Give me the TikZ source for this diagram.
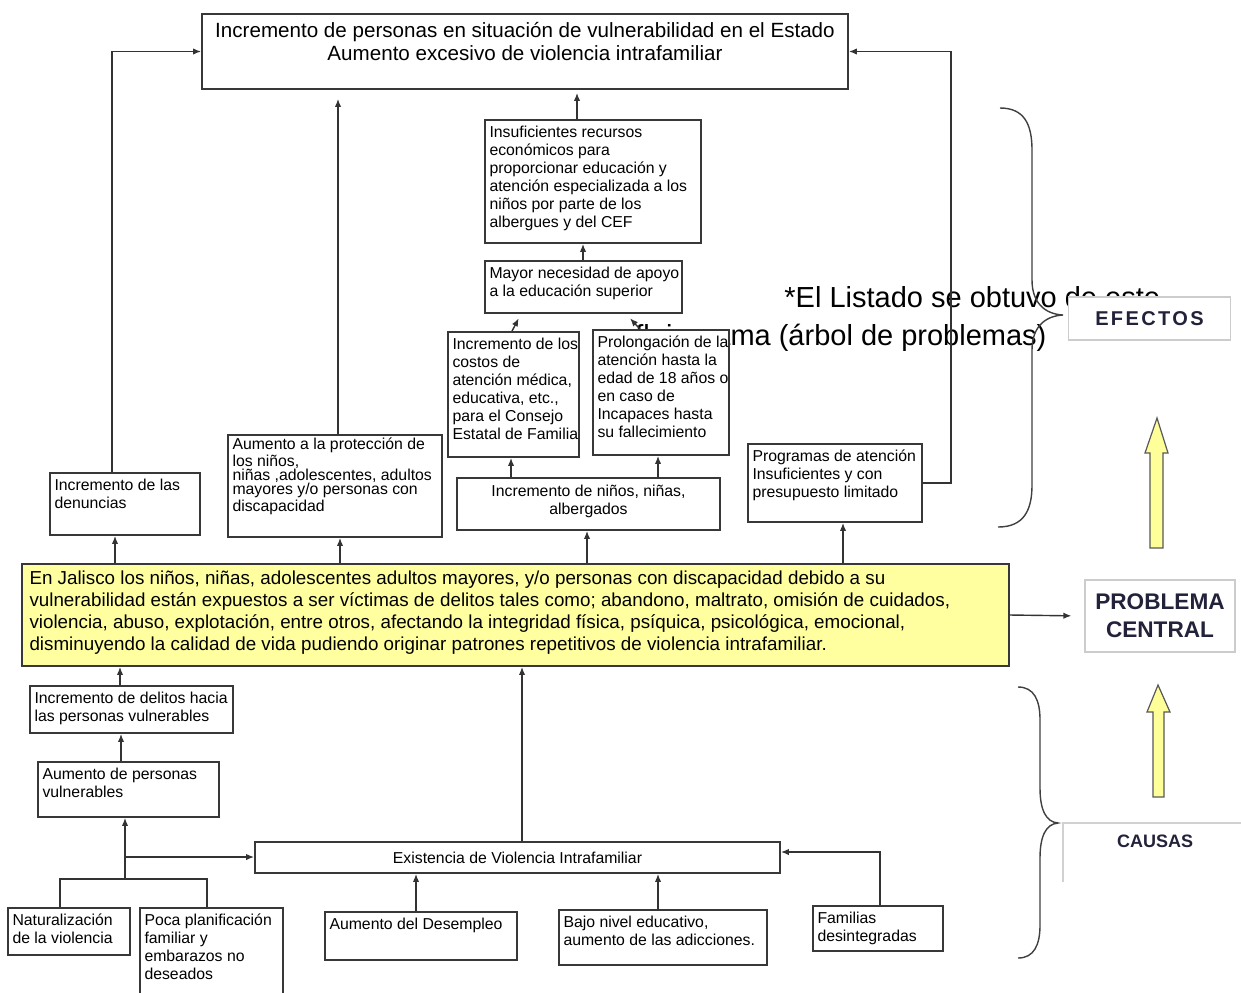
\documentclass[tikz,border=0pt]{standalone}
\usepackage{fontspec}
\setmainfont{Liberation Sans}
\usetikzlibrary{arrows.meta}
\definecolor{mainyellow}{HTML}{FFFFA0}
\definecolor{arrowyellow}{HTML}{FFFF99}
\definecolor{headcol}{HTML}{22223A}
\newcommand\ebox[6][]{\node[frame,minimum width={(#5)*0.5pt},minimum height={(#6)*0.5pt},#1] (#2) at ({#3+(#5)/2},{#4+(#6)/2}) {};}
\begin{document}
\begin{tikzpicture}[x=0.5pt,y=-0.5pt,
  frame/.style={draw=black!78,line width=0.9pt,fill=white,inner sep=0pt,anchor=center},
  lightframe/.style={draw=black!18,line width=0.6pt},
  txt/.style={anchor=north west,align=left,inner xsep=2.5pt,inner ysep=3.2pt,font=\fontsize{7.9pt}{9pt}\selectfont},
  ctxt/.style={align=center,inner sep=0pt,font=\fontsize{7.9pt}{9pt}\selectfont},
  arr/.style={draw=black!80,line width=0.7pt,-{Latex[length=4pt,width=3.2pt]}},
  ln/.style={draw=black!80,line width=0.7pt},
  brace/.style={draw=black!75,line width=0.7pt},
  yarrow/.style={fill=arrowyellow,draw=black!65,line width=0.6pt},
  note/.style={inner sep=0pt,font=\fontsize{14.5pt}{17pt}\selectfont},
  head/.style={align=center,inner sep=0pt,text=headcol,font=\bfseries}
]
\path[use as bounding box,fill=white] (0,0) rectangle (1241,992);

% note text (under the boxes)
\node[note,anchor=base west] (nt1) at (784,307) {*El Listado se obtuvo de este};
\node[note,anchor=base west] (nt2) at (635,345) {flujograma (árbol de problemas)};

% ---------- effects ----------
\ebox{top}{202}{14}{646}{75}
\node[align=center,inner sep=0pt,anchor=north,font=\fontsize{10.3pt}{11.5pt}\selectfont] (top-t) at ([yshift=-4.2pt]top.north) {Incremento de personas en situación de vulnerabilidad en el Estado\\Aumento excesivo de violencia intrafamiliar};

\ebox{ins}{485}{120}{216}{123}
\node[txt] (ins-t) at (ins.north west) {Insuficientes recursos\\económicos para\\proporcionar educación y\\atención especializada a los\\niños por parte de los\\albergues y del CEF};

\ebox{may}{485}{261}{197}{52}
\node[txt] (may-t) at (may.north west) {Mayor necesidad de apoyo\\a la educación superior};

\ebox{cos}{448}{332}{131}{125}
\node[txt] (cos-t) at (cos.north west) {Incremento de los\\costos de\\atención médica,\\educativa, etc.,\\para el Consejo\\Estatal de Familia};

\ebox{pro}{593}{330}{136}{125}
\node[txt] (pro-t) at (pro.north west) {Prolongación de la\\atención hasta la\\edad de 18 años o\\en caso de\\Incapaces hasta\\su fallecimiento};

\ebox{nin}{457}{478}{263}{52}
\node[ctxt] (nin-t) at ([yshift=1.5pt]nin.center) {Incremento de niños, niñas,\\albergados};

\ebox{prog}{748}{444}{174}{78}
\node[txt] (prog-t) at (prog.north west) {Programas de atención\\Insuficientes y con\\presupuesto limitado};

\ebox{den}{50}{473}{150}{62}
\node[txt] (den-t) at (den.north west) {Incremento de las\\denuncias};

\ebox{prot}{228}{435}{214}{102}
\node[txt,inner ysep=1.6pt,font=\fontsize{7.9pt}{7.1pt}\selectfont] (prot-t) at (prot.north west) {Aumento a la protección de\\los niños,\\niñas ,adolescentes, adultos\\mayores y/o personas con\\discapacidad};

% ---------- central problem ----------
\ebox[fill=mainyellow]{main}{22}{564}{987}{102}
\node[txt,inner xsep=4pt,inner ysep=3.5pt,font=\fontsize{9.4pt}{11pt}\selectfont] (main-t) at (main.north west) {En Jalisco los niños, niñas, adolescentes adultos mayores, y/o personas con discapacidad debido a su\\vulnerabilidad están expuestos a ser víctimas de delitos tales como; abandono, maltrato, omisión de cuidados,\\violencia, abuso, explotación, entre otros, afectando la integridad física, psíquica, psicológica, emocional,\\disminuyendo la calidad de vida pudiendo originar patrones repetitivos de violencia intrafamiliar.};

% ---------- causes ----------
\ebox{del}{30}{686}{203}{47}
\node[txt] (del-t) at (del.north west) {Incremento de delitos hacia\\las personas vulnerables};

\ebox{apv}{38}{762}{181}{55}
\node[txt] (apv-t) at (apv.north west) {Aumento de personas\\vulnerables};

\ebox{exi}{255}{842}{525}{31}
\node[ctxt] (exi-t) at (exi.center) {Existencia de Violencia Intrafamiliar};

\ebox{nat}{8}{908}{122}{47}
\node[txt] (nat-t) at (nat.north west) {Naturalización\\de la violencia};

\ebox{poca}{140}{908}{143}{90}
\node[txt] (poca-t) at (poca.north west) {Poca planificación\\familiar y\\embarazos no\\deseados};

\ebox{des}{325}{912}{192}{48}
\node[txt] (des-t) at (des.north west) {Aumento del Desempleo};

\ebox{bajo}{559}{910}{208}{55}
\node[txt] (bajo-t) at (bajo.north west) {Bajo nivel educativo,\\aumento de las adicciones.};

\ebox{fam}{813}{906}{130}{45}
\node[txt] (fam-t) at (fam.north west) {Familias\\desintegradas};

% ---------- right column ----------
\node[draw=black!20,line width=0.6pt,fill=white,minimum width=81pt,minimum height=21.5pt,inner sep=0pt] (ef) at (1149.5,318.5) {};
\node[head,font=\bfseries\fontsize{10pt}{12pt}\selectfont\addfontfeature{LetterSpace=12}] (ef-t) at (ef.center) {EFECTOS};

\node[draw=black!20,line width=0.6pt,fill=white,minimum width=75pt,minimum height=36pt,inner sep=0pt] (pc) at (1160,616) {};
\node[head,font=\bfseries\fontsize{11.3pt}{14pt}\selectfont] (pc-t) at (pc.center) {PROBLEMA\\CENTRAL};

\draw[lightframe] (1260,823) -- (1063,823) -- (1063,882);
\node[head,font=\bfseries\fontsize{9pt}{11pt}\selectfont] (ca) at (1155,841) {CAUSAS};

% yellow arrows
\filldraw[yarrow] (1150,548) -- (1150,453) -- (1145,453) -- (1157,418) -- (1168,453) -- (1163,453) -- (1163,548) -- cycle;
\filldraw[yarrow] (1153,797) -- (1153,712) -- (1147,712) -- (1158,685) -- (1170,712) -- (1164,712) -- (1164,797) -- cycle;

% braces
\draw[brace] (998,527) .. controls (1024,527) and (1032,510) .. (1032,485) -- (1032,350)
  .. controls (1032,328) and (1044,316) .. (1063,315)
  .. controls (1044,314) and (1032,302) .. (1032,280) -- (1032,150)
  .. controls (1032,124) and (1024,108) .. (1000,108);
\draw[brace] (1018,958) .. controls (1034,958) and (1040,945) .. (1040,925) -- (1040,858)
  .. controls (1040,836) and (1046,824) .. (1058,823)
  .. controls (1046,822) and (1040,810) .. (1040,788) -- (1040,720)
  .. controls (1040,700) and (1034,687) .. (1018,687);

% ---------- connectors ----------
\draw[arr] (den.north -| 112,0) |- (top.west);
\draw[arr,shorten >=4.5pt] (prot.north -| 338,0) -- (top.south -| 338,0);
\draw[arr,shorten >=1.5pt] (ins.north -| 577,0) -- (top.south -| 577,0);
\draw[arr] (may.north -| 583,0) -- (ins.south -| 583,0);
\draw[arr,shorten >=2.5pt] (cos.north -| 512,0) -- (may.south -| 521,0);
\draw[arr,shorten >=3pt] (pro.north -| 640,0) -- (may.south -| 626,0);
\draw[arr] (nin.north -| 511,0) -- (cos.south -| 511,0);
\draw[arr] (nin.north -| 658,0) -- (pro.south -| 658,0);
\draw[arr] (main.north -| 587,0) -- (nin.south -| 587,0);
\draw[arr] (main.north -| 843,0) -- (prog.south -| 843,0);
\draw[arr] (main.north -| 115,0) -- (den.south -| 115,0);
\draw[arr] (main.north -| 340,0) -- (prot.south -| 340,0);
\draw[arr] (prog.east) -- ++(28,0) |- (top.east);
\draw[arr,shorten >=6.5pt] (main.east) -- (pc.west);

\draw[arr] (del.north -| 120,0) -- (main.south -| 120,0);
\draw[arr] (apv.north -| 121,0) -- (del.south -| 121,0);
\coordinate (j1) at (125,879);
\coordinate (j2) at (125,857);
\draw[ln] (nat.north -| 60,0) |- (j1) -| (poca.north -| 207,0);
\draw[arr] (j1) -- (apv.south -| j1);
\draw[arr] (j2) -- (exi.west |- j2);
\draw[arr] (exi.north -| 522,0) -- (main.south -| 522,0);
\draw[arr] (des.north -| 416,0) -- (exi.south -| 416,0);
\draw[arr] (bajo.north -| 658,0) -- (exi.south -| 658,0);
\draw[arr] (fam.north -| 880,0) |- (exi.east |- 0,852);
\end{tikzpicture}
\end{document}
